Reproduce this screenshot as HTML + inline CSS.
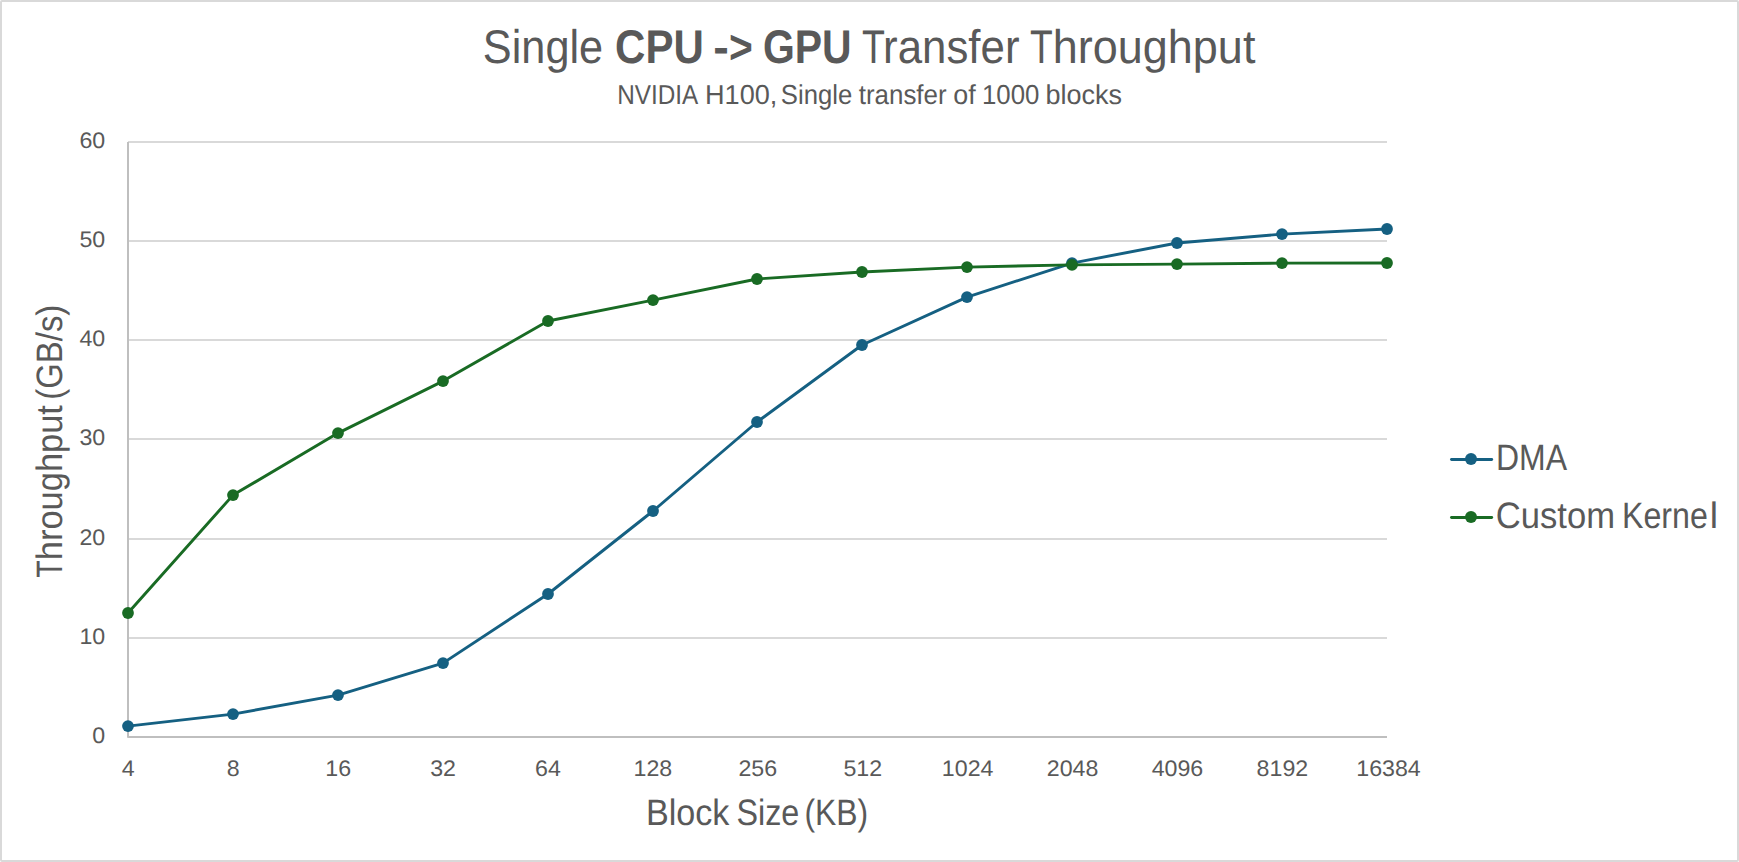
<!DOCTYPE html>
<html lang="en"><head><meta charset="utf-8"><title>Single CPU -&gt; GPU Transfer Throughput</title>
<style>
html,body{margin:0;padding:0;background:#fff;overflow:hidden}
body{width:1739px;height:862px;position:relative}
svg{position:absolute;left:0;top:0;display:block}
text{font-family:"Liberation Sans",Arial,Helvetica,sans-serif;fill:#595959;white-space:pre;text-rendering:geometricPrecision}
.b{font-weight:bold}
</style></head><body>
<svg width="1739" height="862" viewBox="0 0 1739 862">
<rect x="1" y="1" width="1737" height="860" rx="1" fill="#fff" stroke="#D9D9D9" stroke-width="2"/>

<g fill="#D9D9D9">
<rect x="128" y="637" width="1259" height="2"/>
<rect x="128" y="538" width="1259" height="2"/>
<rect x="128" y="438" width="1259" height="2"/>
<rect x="128" y="339" width="1259" height="2"/>
<rect x="128" y="240" width="1259" height="2"/>
<rect x="128" y="141" width="1259" height="2"/>
</g>
<g fill="#BFBFBF">
<rect x="127" y="142" width="2" height="595.5"/>
<rect x="127.5" y="736" width="1259.5" height="2"/>
</g>
<polyline points="128,726.1 233,714.1 338,695.1 443,663.1 548,594.0 653,511.0 757,422.0 862,345.0 967,297.1 1072,263.1 1177,243.0 1282,234.1 1387,229.0" fill="none" stroke="#156082" stroke-width="2.9" stroke-linejoin="round" stroke-linecap="round"/>
<g fill="#156082">
<circle cx="128" cy="726.1" r="5.9"/>
<circle cx="233" cy="714.1" r="5.9"/>
<circle cx="338" cy="695.1" r="5.9"/>
<circle cx="443" cy="663.1" r="5.9"/>
<circle cx="548" cy="594.0" r="5.9"/>
<circle cx="653" cy="511.0" r="5.9"/>
<circle cx="757" cy="422.0" r="5.9"/>
<circle cx="862" cy="345.0" r="5.9"/>
<circle cx="967" cy="297.1" r="5.9"/>
<circle cx="1072" cy="263.1" r="5.9"/>
<circle cx="1177" cy="243.0" r="5.9"/>
<circle cx="1282" cy="234.1" r="5.9"/>
<circle cx="1387" cy="229.0" r="5.9"/>
</g>
<polyline points="128,613.0 233,495.1 338,433.1 443,381.1 548,321.0 653,300.1 757,279.0 862,272.0 967,267.1 1072,264.9 1177,264.1 1282,263.1 1387,263.0" fill="none" stroke="#196B24" stroke-width="2.9" stroke-linejoin="round" stroke-linecap="round"/>
<g fill="#196B24">
<circle cx="128" cy="613.0" r="5.9"/>
<circle cx="233" cy="495.1" r="5.9"/>
<circle cx="338" cy="433.1" r="5.9"/>
<circle cx="443" cy="381.1" r="5.9"/>
<circle cx="548" cy="321.0" r="5.9"/>
<circle cx="653" cy="300.1" r="5.9"/>
<circle cx="757" cy="279.0" r="5.9"/>
<circle cx="862" cy="272.0" r="5.9"/>
<circle cx="967" cy="267.1" r="5.9"/>
<circle cx="1072" cy="264.9" r="5.9"/>
<circle cx="1177" cy="264.1" r="5.9"/>
<circle cx="1282" cy="263.1" r="5.9"/>
<circle cx="1387" cy="263.0" r="5.9"/>
</g>
<g text-anchor="end">
<text transform="translate(105.20,743.00) scale(1.0300,1)" font-size="22.5">0</text>
<text transform="translate(105.20,644.00) scale(1.0300,1)" font-size="22.5">10</text>
<text transform="translate(105.20,545.00) scale(1.0300,1)" font-size="22.5">20</text>
<text transform="translate(105.20,445.00) scale(1.0300,1)" font-size="22.5">30</text>
<text transform="translate(105.20,346.00) scale(1.0300,1)" font-size="22.5">40</text>
<text transform="translate(105.20,247.00) scale(1.0300,1)" font-size="22.5">50</text>
<text transform="translate(105.20,148.00) scale(1.0300,1)" font-size="22.5">60</text>
</g>
<g text-anchor="middle">
<text transform="translate(128.30,776.00) scale(1.0300,1)" font-size="22.5">4</text>
<text transform="translate(233.22,776.00) scale(1.0300,1)" font-size="22.5">8</text>
<text transform="translate(338.13,776.00) scale(1.0300,1)" font-size="22.5">16</text>
<text transform="translate(443.05,776.00) scale(1.0300,1)" font-size="22.5">32</text>
<text transform="translate(547.97,776.00) scale(1.0300,1)" font-size="22.5">64</text>
<text transform="translate(652.88,776.00) scale(1.0300,1)" font-size="22.5">128</text>
<text transform="translate(757.80,776.00) scale(1.0300,1)" font-size="22.5">256</text>
<text transform="translate(862.72,776.00) scale(1.0300,1)" font-size="22.5">512</text>
<text transform="translate(967.63,776.00) scale(1.0300,1)" font-size="22.5">1024</text>
<text transform="translate(1072.55,776.00) scale(1.0300,1)" font-size="22.5">2048</text>
<text transform="translate(1177.47,776.00) scale(1.0300,1)" font-size="22.5">4096</text>
<text transform="translate(1282.38,776.00) scale(1.0300,1)" font-size="22.5">8192</text>
<text transform="translate(1388.50,776.00) scale(1.0300,1)" font-size="22.5">16384</text>
</g>
<g id="title"><text transform="translate(482.85,63.00) scale(0.9173,1)" font-size="47.19">Single</text><text transform="translate(615.03,63.00) scale(0.8906,1)" font-size="47.19" class="b">CPU</text><text transform="translate(713.14,63.00) scale(0.9917,1)" font-size="47.19" class="b">-</text><text transform="translate(729.07,63.00) scale(0.8635,1)" font-size="47.19" class="b">&gt;</text><text transform="translate(762.98,63.00) scale(0.8667,1)" font-size="47.19" class="b">GPU</text><text transform="translate(861.90,63.00) scale(0.7963,1)" font-size="47.19">T</text><text transform="translate(883.05,63.00) scale(0.9290,1)" font-size="47.19">ransfer</text><text transform="translate(1030.01,63.00) scale(0.7888,1)" font-size="47.19">T</text><text transform="translate(1052.80,63.00) scale(0.9532,1)" font-size="47.19">hroughput</text></g>
<g id="subtitle"><text transform="translate(617.31,104.00) scale(0.8853,1)" font-size="27.44">NVIDIA</text><text transform="translate(704.98,104.00) scale(0.9883,1)" font-size="27.44">H100,</text><text transform="translate(780.83,104.00) scale(0.9356,1)" font-size="27.44">Single</text><text transform="translate(858.75,104.00) scale(0.9444,1)" font-size="27.44">transfer</text><text transform="translate(953.20,104.00) scale(0.9793,1)" font-size="27.44">of</text><text transform="translate(982.00,104.00) scale(0.9400,1)" font-size="27.44">1000</text><text transform="translate(1045.48,104.00) scale(0.9840,1)" font-size="27.44">blocks</text></g>
<g id="xtitle"><text transform="translate(645.91,825.00) scale(0.9303,1)" font-size="36.73">Block</text><text transform="translate(736.46,825.00) scale(0.8794,1)" font-size="36.73">Size</text><text transform="translate(804.45,825.00) scale(0.8682,1)" font-size="36.73">(KB)</text></g>
<g id="ytitle" transform="translate(62.4,577.1) rotate(-90)"><text transform="translate(-0.57,0.00) scale(0.7711,1)" font-size="36.73">T</text><text transform="translate(16.96,0.00) scale(0.9377,1)" font-size="36.73">hroughput</text><text transform="translate(177.38,0.00) scale(0.8956,1)" font-size="36.73">(GB/s)</text></g>
<line x1="1451.5" y1="459.5" x2="1491.7" y2="459.5" stroke="#156082" stroke-width="2.9" stroke-linecap="round"/><circle cx="1471" cy="459.05" r="6" fill="#156082"/>
<line x1="1451.5" y1="517.5" x2="1491.7" y2="517.5" stroke="#196B24" stroke-width="2.9" stroke-linecap="round"/><circle cx="1471" cy="517.05" r="6" fill="#196B24"/>
<g id="legend"><text transform="translate(1495.89,470.00) scale(0.8713,1)" font-size="36.73">DMA</text><text transform="translate(1495.83,528.00) scale(0.9423,1)" font-size="36.73">Custom</text><text transform="translate(1621.97,528.00) scale(0.8760,1)" font-size="36.73">Kerne</text><text transform="translate(1709.86,528.00) scale(1.0154,1)" font-size="36.73">l</text></g>
</svg></body></html>
